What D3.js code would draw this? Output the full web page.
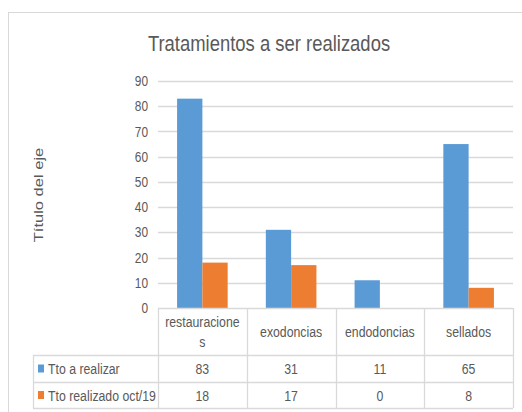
<!DOCTYPE html>
<html>
<head>
<meta charset="utf-8">
<script src="https://cdn.jsdelivr.net/npm/d3@7"></script>
<style>
  body { margin: 0; background: #fff; }
  text { font-family: "Liberation Sans", Arial, sans-serif; fill: #595959; }
</style>
</head>
<body>
<svg id="chart" width="522" height="412"></svg>
<script>
//chart data
const categories = ["restauraciones", "exodoncias", "endodoncias", "sellados"];
const categoryLines = [["restauracione", "s"], ["exodoncias"], ["endodoncias"], ["sellados"]];
const seriesNames = ["Tto a realizar", "Tto realizado oct/19"];
const aRealizar = [83, 31, 11, 65];
const realizado = [18, 17, 0, 8];
const yTicks = [0, 10, 20, 30, 40, 50, 60, 70, 80, 90];

const seriesValues = [aRealizar, realizado];
const colors = ["#5B9BD5", "#ED7D31"];
const gridColor = "#D9D9D9";
const sx = 0.82;   //text looks horizontally squeezed in the picture

//plot area
const plot = { left: 158, right: 513, top: 81, bottom: 308 };
//table rows under the plot
const rowCat = 355, row1 = 382, row2 = 408, legendLeft = 33;

const svg = d3.select("#chart");

//put a squeezed text at x,y
function label(parent, x, y, txt, size, anchor) {
    return parent.append("text")
        .attr("transform", `translate(${x},${y}) scale(${sx},1)`)
        .attr("text-anchor", anchor || "middle")
        .attr("font-size", size)
        .text(txt);
}

//outer chart border
svg.append("rect")
    .attr("x", 8.5).attr("y", 12.5)
    .attr("width", 530).attr("height", 420)
    .attr("fill", "none")
    .attr("stroke", gridColor);

//title
label(svg, 269, 51, "Tratamientos a ser realizados", 22.5);

//scales
const x = d3.scaleBand()
    .domain(categories)
    .range([plot.left, plot.right]);
const xs = d3.scaleBand()
    .domain(seriesNames)
    .range([x.bandwidth() * 0.215, x.bandwidth() * 0.785]);
const y = d3.scaleLinear()
    .domain([0, 90])
    .range([plot.bottom, plot.top]);

//gridlines
svg.append("g")
    .selectAll("line")
    .data(yTicks.filter(d => d > 0))
    .join("line")
    .attr("x1", plot.left).attr("x2", plot.right)
    .attr("y1", d => Math.round(y(d)) + 0.5)
    .attr("y2", d => Math.round(y(d)) + 0.5)
    .attr("stroke", gridColor)
    .attr("stroke-width", 1.3);

//y axis labels
const yAxis = svg.append("g")
    .attr("transform", `translate(${plot.left},0)`)
    .call(d3.axisLeft(y).tickValues(yTicks).tickSize(0).tickPadding(10));
yAxis.select(".domain").remove();
yAxis.selectAll("text")
    .attr("font-size", 14.5)
    .attr("fill", "#595959")
    .attr("x", -10 / sx)
    .attr("transform", `scale(${sx},1)`)
    .style("font-family", "'Liberation Sans', Arial, sans-serif");

//axis title
svg.append("text")
    .attr("transform", "translate(43,195) rotate(-90) scale(1,0.8)")
    .attr("text-anchor", "middle")
    .attr("font-size", 16.5)
    .text("Título del eje");

//bars
seriesNames.forEach((s, si) => {
    svg.append("g")
        .selectAll("rect")
        .data(categories)
        .join("rect")
        .attr("x", d => x(d) + xs(s))
        .attr("width", xs.bandwidth())
        .attr("y", (d, i) => y(seriesValues[si][i]))
        .attr("height", (d, i) => y(0) - y(seriesValues[si][i]))
        .attr("fill", colors[si]);
});

//data table
const table = svg.append("g")
    .attr("stroke", gridColor)
    .attr("stroke-width", 1.3)
    .attr("fill", "none");
//horizontal lines
table.append("line").attr("x1", plot.left).attr("x2", plot.right).attr("y1", plot.bottom + 0.5).attr("y2", plot.bottom + 0.5);
[rowCat, row1, row2].forEach(r => {
    table.append("line").attr("x1", legendLeft).attr("x2", plot.right).attr("y1", r + 0.5).attr("y2", r + 0.5);
});
//vertical lines
table.append("line").attr("x1", legendLeft + 0.5).attr("x2", legendLeft + 0.5).attr("y1", rowCat).attr("y2", row2);
categories.forEach(c => {
    const xx = Math.round(x(c)) + 0.5;
    table.append("line").attr("x1", xx).attr("x2", xx).attr("y1", plot.bottom).attr("y2", row2);
});
table.append("line").attr("x1", plot.right + 0.5).attr("x2", plot.right + 0.5).attr("y1", plot.bottom).attr("y2", row2);

//category labels
categories.forEach((c, i) => {
    const lines = categoryLines[i];
    const cy = (plot.bottom + rowCat) / 2;
    lines.forEach((l, li) => {
        label(svg, x(c) + x.bandwidth() / 2, cy + 5 + (li - (lines.length - 1) / 2) * 20, l, 15);
    });
});

//values and legend rows
[row1, row2].forEach((r, si) => {
    const top = si === 0 ? rowCat : row1;
    const mid = (top + r) / 2;
    svg.append("rect")
        .attr("x", 38).attr("y", mid - 4)
        .attr("width", 6).attr("height", 8)
        .attr("fill", colors[si]);
    label(svg, 48, mid + 5.5, seriesNames[si], 15, "start");
    categories.forEach((c, i) => {
        label(svg, x(c) + x.bandwidth() / 2, mid + 5.5, seriesValues[si][i], 15);
    });
});
</script>
</body>
</html>
